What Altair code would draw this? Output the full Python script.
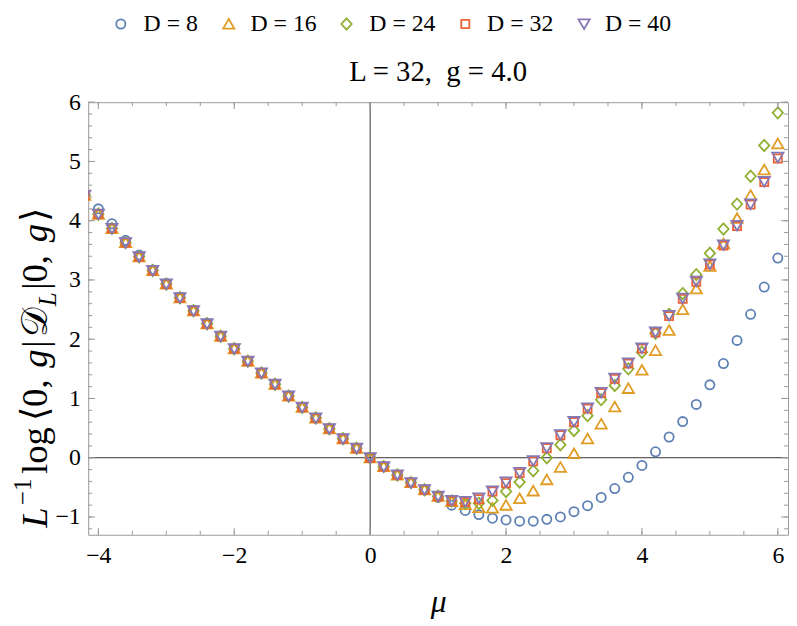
import altair as alt
import pandas as pd

# ---------------- data ----------------
mu = [-4.2, -4.0, -3.8, -3.6, -3.4, -3.2, -3.0, -2.8, -2.6, -2.4, -2.2, -2.0, -1.8,
      -1.6, -1.4, -1.2, -1.0, -0.8, -0.6, -0.4, -0.2, 0.0, 0.2, 0.4, 0.6, 0.8, 1.0,
      1.2, 1.4, 1.6, 1.8, 2.0, 2.2, 2.4, 2.6, 2.8, 3.0, 3.2, 3.4, 3.6, 3.8, 4.0, 4.2,
      4.4, 4.6, 4.8, 5.0, 5.2, 5.4, 5.6, 5.8, 6.0]

labels = ["D = 8", "D = 16", "D = 24", "D = 32", "D = 40"]

d8 = [4.45, 4.20, 3.95, 3.67, 3.42, 3.17, 2.94, 2.71, 2.49, 2.27, 2.05, 1.84, 1.63,
      1.43, 1.24, 1.04, 0.85, 0.67, 0.49, 0.32, 0.16, 0.00, -0.15, -0.29, -0.42, -0.54, -0.67,
      -0.80, -0.89, -0.96, -1.02, -1.05, -1.07, -1.07, -1.04, -1.00, -0.91, -0.81, -0.67,
      -0.52, -0.33, -0.13, 0.10, 0.35, 0.61, 0.90, 1.23, 1.59, 1.98, 2.42, 2.88, 3.37]
d16 = [4.43, 4.11, 3.87, 3.63, 3.39, 3.16, 2.93, 2.70, 2.48, 2.26, 2.05, 1.84, 1.63,
       1.43, 1.24, 1.04, 0.85, 0.67, 0.49, 0.32, 0.16, 0.00, -0.15, -0.29, -0.42, -0.54, -0.65,
       -0.74, -0.79, -0.84, -0.85, -0.80, -0.69, -0.56, -0.37, -0.16, 0.07, 0.32, 0.57,
       0.86, 1.17, 1.48, 1.81, 2.15, 2.50, 2.85, 3.23, 3.61, 4.04, 4.43, 4.86, 5.30]
d24 = [4.43, 4.11, 3.87, 3.63, 3.39, 3.16, 2.93, 2.70, 2.48, 2.26, 2.05, 1.84, 1.63,
       1.43, 1.24, 1.04, 0.85, 0.67, 0.49, 0.32, 0.16, 0.00, -0.15, -0.29, -0.42, -0.54, -0.65,
       -0.73, -0.77, -0.77, -0.72, -0.57, -0.41, -0.22, 0.00, 0.22, 0.46, 0.71, 0.98,
       1.22, 1.50, 1.78, 2.10, 2.42, 2.77, 3.09, 3.45, 3.86, 4.28, 4.75, 5.27, 5.82]
d32 = [4.43, 4.11, 3.87, 3.63, 3.39, 3.16, 2.93, 2.70, 2.48, 2.26, 2.05, 1.84, 1.63,
       1.43, 1.24, 1.04, 0.85, 0.67, 0.49, 0.32, 0.16, 0.00, -0.15, -0.29, -0.42, -0.54, -0.65,
       -0.73, -0.75, -0.70, -0.57, -0.43, -0.26, -0.06, 0.16, 0.38, 0.60, 0.83, 1.09,
       1.33, 1.59, 1.84, 2.11, 2.39, 2.68, 2.97, 3.26, 3.58, 3.91, 4.27, 4.65, 5.05]
d40 = [4.43, 4.11, 3.87, 3.63, 3.39, 3.16, 2.93, 2.70, 2.48, 2.26, 2.05, 1.84, 1.63,
       1.43, 1.24, 1.04, 0.85, 0.67, 0.49, 0.32, 0.16, 0.00, -0.15, -0.29, -0.42, -0.54, -0.65,
       -0.72, -0.74, -0.68, -0.56, -0.41, -0.25, -0.05, 0.17, 0.39, 0.61, 0.84, 1.10,
       1.34, 1.60, 1.85, 2.12, 2.40, 2.69, 2.98, 3.27, 3.59, 3.92, 4.28, 4.66, 5.07]
series = [d8, d16, d24, d32, d40]

x_major = [-4, -2, 0, 2, 4, 6]
x_minor = [-4.0, -3.5, -3.0, -2.5, -2.0, -1.5, -1.0, -0.5, 0.0, 0.5, 1.0, 1.5, 2.0,
           2.5, 3.0, 3.5, 4.0, 4.5, 5.0, 5.5, 6.0]
y_major = [-1, 0, 1, 2, 3, 4, 5, 6]
y_minor = [round(-1.2 + 0.2 * i, 1) for i in range(37)]

title_text = "L = 32,\u00a0 g = 4.0"
x_title = "μ"

# ---------------- style ----------------
colors = ["#5E81B5", "#E19C24", "#8FB032", "#EB6235", "#8778B3"]
shapes = [
    "M0.8,0 A0.8,0.8 0 1,1 -0.8,0 A0.8,0.8 0 1,1 0.8,0 Z",
    "M0,-0.88 L0.98,0.8 L-0.98,0.8 Z",
    "M0,-0.98 L0.9,0 L0,0.98 L-0.9,0 Z",
    "M-0.7,-0.7 L0.7,-0.7 L0.7,0.7 L-0.7,0.7 Z",
    "M0,0.88 L0.98,-0.8 L-0.98,-0.8 Z",
]
FONT = "Liberation Serif"
FRAME = "#9a9a9a"
W, H = 707, 437
MSIZE = 135
MSTROKE = 1.8

# legend key layout (pixels relative to the plot area's top-left corner)
LEG_Y = -79
LEG_SYM_X = [33, 142, 261, 381, 501]
LEG_TXT_X = [56, 164, 284, 403, 522]

rows = []
for lab, vals in zip(labels, series):
    for m, v in zip(mu, vals):
        rows.append({"mu": m, "val": v, "D": lab})
df = pd.DataFrame(rows)

xs = alt.Scale(domain=[-4.15, 6.15], nice=False, zero=False)
ys = alt.Scale(domain=[-1.3, 6.0], nice=False, zero=False)
cs = alt.Scale(domain=labels, range=colors)
ss = alt.Scale(domain=labels, range=shapes)

xaxis = alt.Axis(values=x_major, title=x_title, domain=False, ticks=False, grid=False,
                 labelFont=FONT, labelFontSize=24, labelColor="black", labelPadding=9,
                 titleFont=FONT, titleFontSize=32, titleFontStyle="italic", titleFontWeight="normal",
                 titleColor="black", titlePadding=20)
yaxis = alt.Axis(values=y_major, title=None, domain=False, ticks=False, grid=False,
                 labelFont=FONT, labelFontSize=24, labelColor="black", labelPadding=8)

zero_df = pd.DataFrame({"mu": [0], "val": [0]})
vline = alt.Chart(zero_df).mark_rule(color="#333333", strokeWidth=1).encode(
    x=alt.X("mu:Q", scale=xs, axis=xaxis))
hline = alt.Chart(zero_df).mark_rule(color="#333333", strokeWidth=1).encode(
    y=alt.Y("val:Q", scale=ys, axis=yaxis))

points = alt.Chart(df).mark_point(filled=False, strokeWidth=MSTROKE, size=MSIZE, clip=True, opacity=1).encode(
    x=alt.X("mu:Q", scale=xs, axis=xaxis),
    y=alt.Y("val:Q", scale=ys, axis=yaxis),
    color=alt.Color("D:N", scale=cs, legend=None),
    shape=alt.Shape("D:N", scale=ss, legend=None),
    order=alt.Order("ord:Q"),
).transform_calculate(ord="indexof(%s, datum.D)" % str(labels))

# ---------- legend built from key layers ----------
leg_df = pd.DataFrame({"D": labels})
legend_layers = []
for lab, sx, tx in zip(labels, LEG_SYM_X, LEG_TXT_X):
    base = alt.Chart(leg_df).transform_filter(alt.datum.D == lab)
    legend_layers.append(
        base.mark_point(filled=False, strokeWidth=MSTROKE, size=MSIZE, opacity=1).encode(
            x=alt.value(sx), y=alt.value(LEG_Y),
            color=alt.Color("D:N", scale=cs, legend=None),
            shape=alt.Shape("D:N", scale=ss, legend=None))
    )
    legend_layers.append(
        base.mark_text(font=FONT, fontSize=24, color="black", align="left", baseline="middle").encode(
            x=alt.value(tx), y=alt.value(LEG_Y), text="D:N")
    )


def xticks(vals, length, top):
    d = pd.DataFrame({"mu": vals})
    if top:
        enc = dict(y=alt.value(0), y2=alt.value(length))
    else:
        enc = dict(y=alt.value(H), y2=alt.value(H - length))
    return alt.Chart(d).mark_rule(color=FRAME, strokeWidth=1).encode(
        x=alt.X("mu:Q", scale=xs, axis=xaxis), **enc)


def yticks(vals, length, right):
    d = pd.DataFrame({"val": vals})
    if right:
        enc = dict(x=alt.value(W), x2=alt.value(W - length))
    else:
        enc = dict(x=alt.value(0), x2=alt.value(length))
    return alt.Chart(d).mark_rule(color=FRAME, strokeWidth=1).encode(
        y=alt.Y("val:Q", scale=ys, axis=yaxis), **enc)


ticks = [xticks(x_minor, 4, False), xticks(x_major, 7, False),
         xticks(x_minor, 4, True), xticks(x_major, 7, True),
         yticks(y_minor, 4, False), yticks(y_major, 7, False),
         yticks(y_minor, 4, True), yticks(y_major, 7, True)]

# ---------- plot title as a text mark ----------
title_layer = alt.Chart(pd.DataFrame({"s": [title_text]})).mark_text(
    font=FONT, fontSize=29, color="black", align="center", baseline="middle"
).encode(x=alt.value(W / 2), y=alt.value(-30), text="s:N")

# ---------- y axis title built from pieces (sub/superscripts) ----------
F = 37
ypieces = [
    # text, italic, size factor, shift(em, + = down), advance(em)
    ("L", True, 1.0, 0.0, 0.62),
    ("\u22121", False, 0.68, -0.42, 0.85),
    ("log", False, 1.0, 0.0, 1.45),
    ("\u27e80,", False, 1.0, 0.0, 1.45),
    ("g", True, 1.0, 0.0, 0.55),
    ("|", False, 1.0, 0.0, 0.28),
    ("\U0001D49F", False, 1.0, 0.0, 0.85),
    ("L", True, 0.68, 0.25, 0.45),
    ("|0,", False, 1.0, 0.0, 1.30),
    ("g", True, 1.0, 0.0, 0.55),
    ("\u27e9", False, 1.0, 0.0, 0.4),
]
start_y = 430
ylabel_layers = []
adv = 0.0
for txt, ital, fac, shift, a in ypieces:
    ylabel_layers.append(
        alt.Chart(pd.DataFrame({"s": [txt]})).mark_text(
            angle=270, align="left", baseline="alphabetic", font=FONT,
            fontSize=F * fac, fontStyle="italic" if ital else "normal", color="black",
            dx=adv, dy=shift * F,
        ).encode(x=alt.value(-42), y=alt.value(start_y), text="s:N")
    )
    adv += a * F

chart = alt.layer(vline, hline, points, *ticks, title_layer, *ylabel_layers, *legend_layers).properties(
    width=W, height=H,
    autosize=alt.AutoSizeParams(type="none"),
    padding={"left": 81, "top": 92, "right": 1, "bottom": 88},
).configure(
    background="white", font=FONT
).configure_view(
    stroke=FRAME, strokeWidth=1
).configure_axis(
    labelFont=FONT, titleFont=FONT
).configure_text(font=FONT)

chart.save("out.html", embed_options={"renderer": "svg", "actions": False})
